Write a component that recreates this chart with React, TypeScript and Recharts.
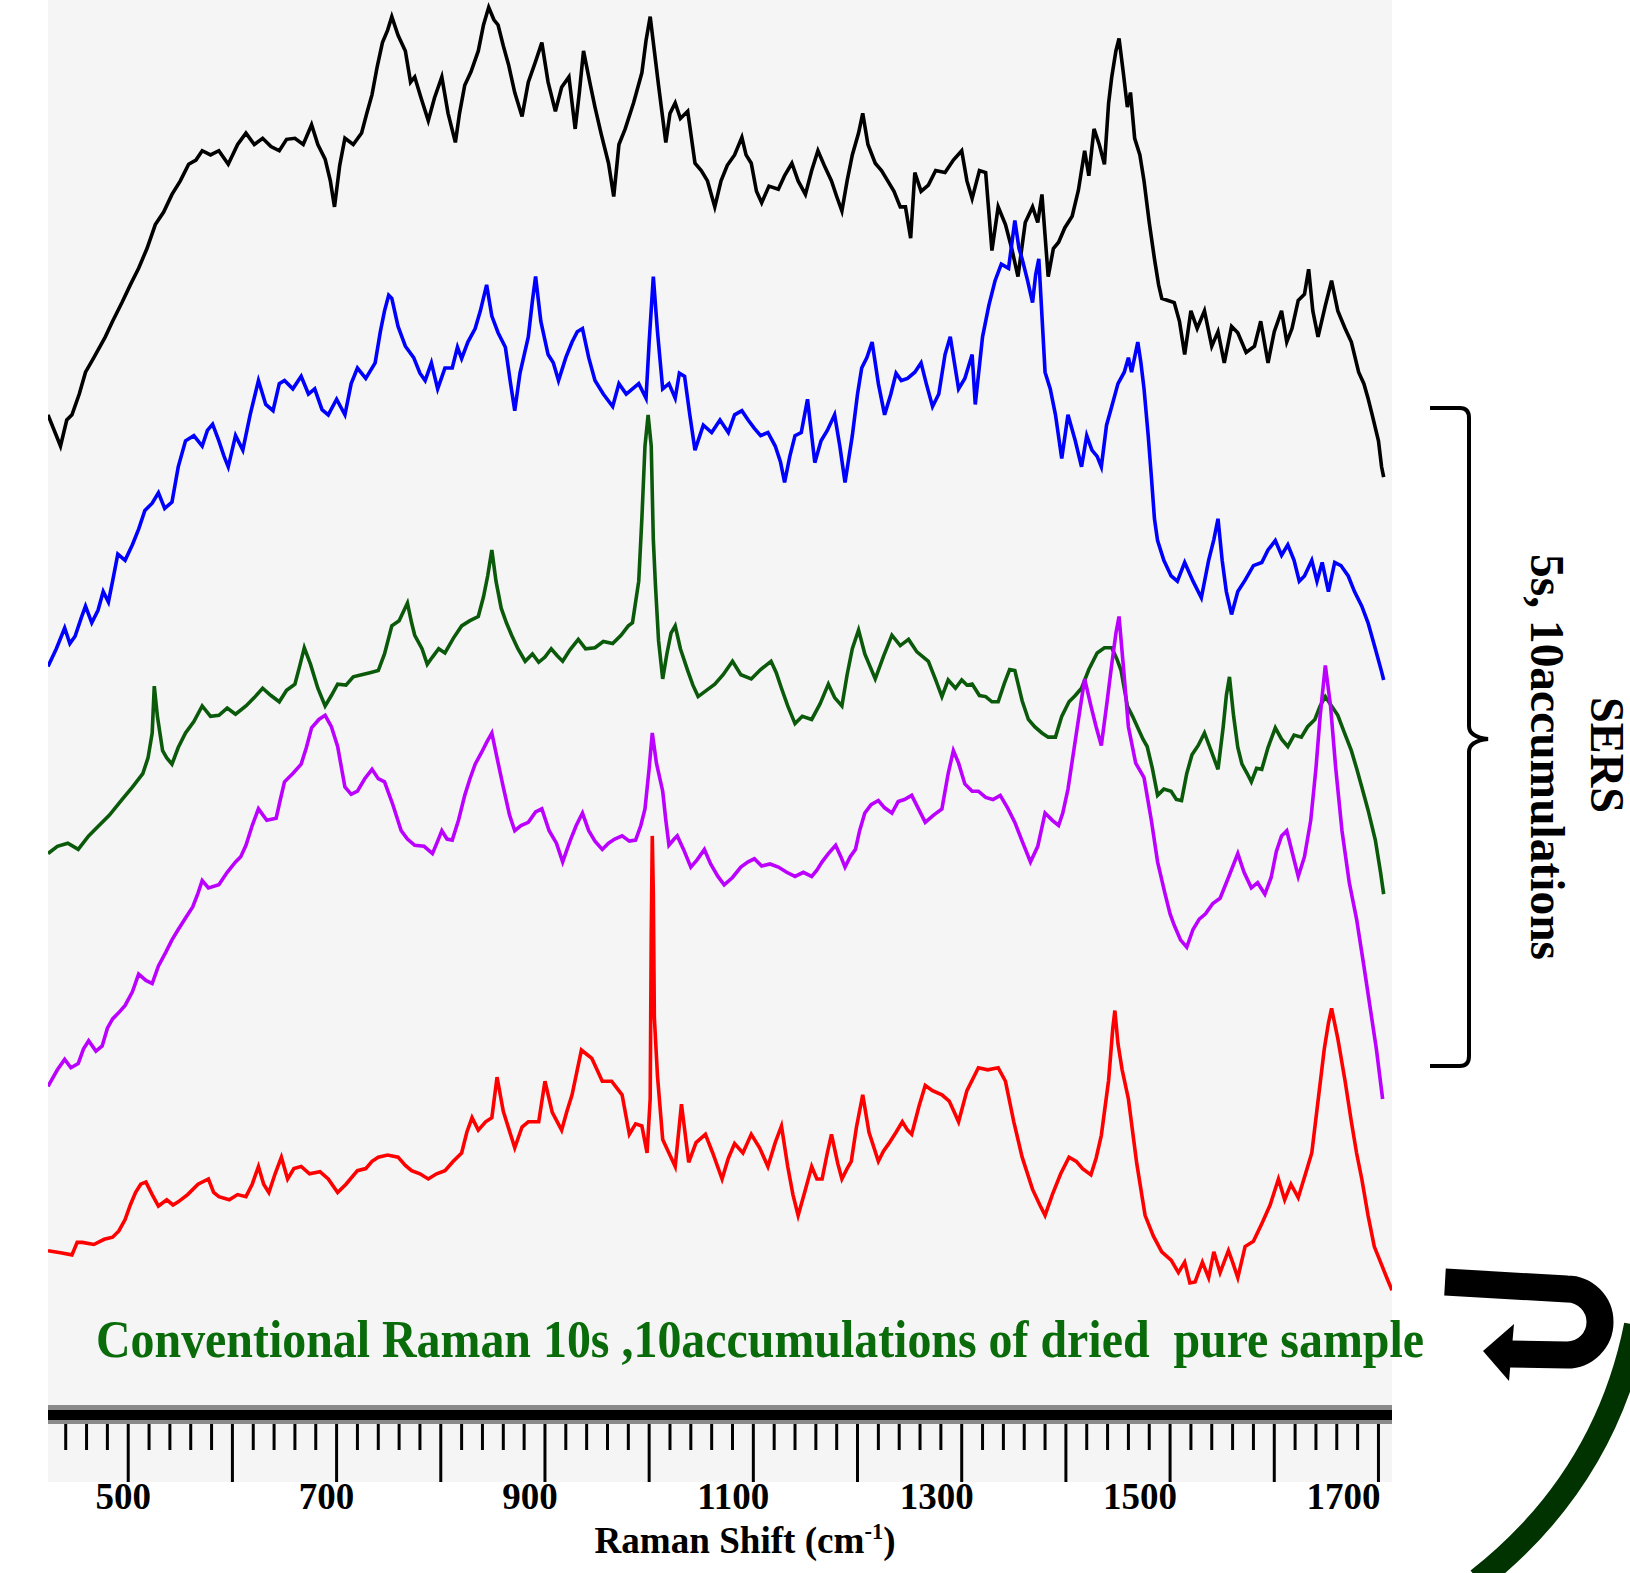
import React from 'react'
import { LineChart, Line, XAxis, YAxis } from 'recharts'

// Raman shift (cm-1), intensity (arb. units, offset stacked)
const blackSpectrum: [number, number][] = [
  [423, 962], [435, 932], [441, 957], [446, 962], [453, 982], [459, 1003], [467, 1017], [478, 1037], [485, 1052], [494, 1070],
  [502, 1087], [510, 1103], [518, 1122], [526, 1145], [534, 1157], [542, 1174], [550, 1187], [558, 1203], [565, 1207], [571, 1216],
  [579, 1212], [587, 1216], [596, 1203], [605, 1222], [613, 1233], [621, 1222], [629, 1228], [637, 1220], [645, 1216], [652, 1227],
  [660, 1228], [668, 1222], [676, 1241], [682, 1222], [689, 1208], [694, 1187], [698, 1162], [703, 1202], [708, 1228], [716, 1222],
  [724, 1233], [729, 1252], [734, 1270], [739, 1297], [744, 1320], [749, 1332], [753, 1345], [759, 1327], [766, 1312], [771, 1282],
  [775, 1287], [781, 1267], [788, 1245], [794, 1267], [801, 1287], [807, 1252], [814, 1224], [818, 1252], [823, 1279], [829, 1292],
  [836, 1312], [841, 1337], [846, 1354], [851, 1342], [855, 1337], [860, 1317], [865, 1299], [871, 1272], [878, 1249], [884, 1282],
  [891, 1302], [897, 1320], [903, 1282], [910, 1254], [916, 1277], [923, 1287], [929, 1237], [933, 1272], [937, 1312], [943, 1282],
  [948, 1258], [954, 1232], [961, 1204], [966, 1172], [971, 1222], [977, 1237], [985, 1262], [993, 1291], [997, 1322], [1001, 1345],
  [1005, 1312], [1009, 1279], [1016, 1224], [1020, 1252], [1025, 1262], [1030, 1247], [1037, 1254], [1044, 1204], [1050, 1197], [1056, 1187],
  [1063, 1162], [1069, 1187], [1075, 1202], [1082, 1212], [1089, 1229], [1093, 1212], [1098, 1204], [1103, 1177], [1108, 1166], [1115, 1182],
  [1124, 1179], [1130, 1192], [1137, 1204], [1143, 1187], [1150, 1174], [1156, 1197], [1162, 1216], [1168, 1202], [1175, 1187], [1180, 1172],
  [1185, 1158], [1190, 1187], [1195, 1212], [1201, 1233], [1205, 1252], [1210, 1222], [1217, 1204], [1223, 1197], [1229, 1187], [1235, 1177],
  [1241, 1162], [1246, 1162], [1251, 1132], [1255, 1195], [1261, 1177], [1268, 1183], [1275, 1197], [1284, 1195], [1292, 1207], [1300, 1216],
  [1305, 1187], [1310, 1170], [1317, 1197], [1323, 1195], [1329, 1120], [1335, 1162], [1342, 1145], [1348, 1122], [1354, 1095], [1361, 1147],
  [1368, 1162], [1373, 1147], [1377, 1174], [1383, 1095], [1388, 1122], [1393, 1128], [1399, 1142], [1406, 1153], [1412, 1178], [1418, 1216],
  [1422, 1192], [1427, 1237], [1432, 1222], [1437, 1203], [1441, 1262], [1444, 1287], [1448, 1312], [1451, 1324], [1455, 1292], [1459, 1258],
  [1462, 1272], [1466, 1228], [1471, 1212], [1475, 1187], [1480, 1147], [1485, 1112], [1489, 1087], [1492, 1074], [1498, 1072], [1504, 1070],
  [1509, 1052], [1514, 1020], [1520, 1062], [1526, 1045], [1533, 1062], [1540, 1028], [1546, 1042], [1552, 1012], [1559, 1047], [1565, 1041],
  [1573, 1022], [1581, 1028], [1587, 1052], [1594, 1012], [1600, 1042], [1607, 1062], [1612, 1032], [1617, 1045], [1623, 1072], [1629, 1078],
  [1633, 1102], [1637, 1062], [1642, 1037], [1649, 1067], [1655, 1091], [1661, 1062], [1668, 1045], [1674, 1032], [1681, 1003], [1686, 992],
  [1690, 978], [1694, 962], [1700, 937], [1703, 912], [1705, 902],
]

const blueSpectrum: [number, number][] = [
  [423, 720], [431, 737], [439, 757], [444, 742], [449, 749], [455, 767], [459, 778], [465, 762], [471, 774], [476, 792],
  [481, 782], [485, 802], [490, 828], [497, 822], [504, 837], [510, 852], [516, 870], [523, 877], [529, 887], [535, 872],
  [542, 878], [548, 912], [555, 937], [563, 942], [571, 932], [576, 947], [581, 953], [587, 937], [592, 922], [596, 912],
  [603, 942], [610, 928], [617, 962], [625, 995], [632, 972], [639, 966], [645, 992], [650, 995], [658, 987], [666, 999],
  [673, 982], [679, 987], [686, 967], [692, 962], [700, 977], [708, 962], [714, 992], [720, 1007], [728, 997], [737, 1012],
  [742, 1042], [746, 1062], [750, 1077], [753, 1074], [759, 1047], [766, 1028], [774, 1017], [780, 1002], [785, 995], [791, 1012],
  [797, 987], [804, 1007], [811, 1007], [816, 1027], [820, 1016], [826, 1032], [833, 1045], [838, 1062], [844, 1087], [849, 1057],
  [855, 1041], [862, 1027], [867, 992], [871, 966], [876, 1002], [884, 1037], [888, 1072], [891, 1095], [896, 1052], [903, 1020],
  [908, 1012], [913, 995], [920, 1017], [926, 1032], [931, 1042], [936, 1045], [942, 1017], [948, 995], [956, 982], [965, 970],
  [971, 992], [978, 982], [984, 987], [990, 992], [997, 978], [1000, 1032], [1004, 1095], [1008, 1042], [1013, 987], [1019, 992],
  [1025, 978], [1029, 1002], [1034, 999], [1039, 962], [1044, 928], [1052, 952], [1060, 945], [1068, 957], [1076, 945], [1082, 962],
  [1089, 966], [1095, 957], [1101, 949], [1107, 942], [1114, 945], [1121, 932], [1126, 917], [1130, 897], [1135, 922], [1140, 942],
  [1146, 945], [1152, 977], [1159, 916], [1165, 937], [1171, 947], [1178, 962], [1183, 932], [1188, 897], [1195, 942], [1200, 982],
  [1204, 1007], [1209, 1017], [1214, 1032], [1220, 992], [1226, 962], [1232, 982], [1237, 1002], [1242, 995], [1248, 997], [1255, 1003],
  [1261, 1012], [1266, 992], [1272, 970], [1278, 982], [1284, 1020], [1289, 1037], [1293, 1012], [1297, 987], [1303, 997], [1310, 1020],
  [1313, 972], [1320, 1037], [1326, 1067], [1332, 1091], [1338, 1107], [1345, 1103], [1351, 1149], [1355, 1122], [1358, 1112], [1363, 1092],
  [1368, 1070], [1371, 1097], [1374, 1112], [1380, 1003], [1385, 987], [1390, 962], [1396, 920], [1402, 962], [1409, 937], [1415, 912],
  [1420, 942], [1425, 928], [1430, 922], [1434, 912], [1439, 952], [1444, 970], [1450, 992], [1456, 1003], [1460, 1017], [1463, 1003],
  [1469, 1032], [1472, 1012], [1475, 987], [1479, 942], [1482, 903], [1485, 862], [1488, 841], [1494, 822], [1501, 807], [1507, 802],
  [1514, 820], [1522, 802], [1530, 786], [1537, 822], [1542, 842], [1546, 862], [1550, 822], [1554, 792], [1559, 770], [1565, 792],
  [1572, 803], [1580, 817], [1588, 820], [1594, 832], [1601, 841], [1607, 827], [1613, 837], [1619, 822], [1624, 802], [1629, 807],
  [1636, 822], [1641, 802], [1646, 820], [1652, 792], [1658, 820], [1664, 817], [1671, 807], [1677, 792], [1684, 778], [1690, 762],
  [1697, 737], [1703, 715], [1705, 707],
]

const greenSpectrum: [number, number][] = [
  [423, 540], [432, 547], [442, 550], [452, 544], [462, 557], [471, 566], [482, 577], [494, 592], [504, 604], [514, 617],
  [519, 632], [523, 656], [525, 701], [528, 672], [533, 639], [537, 632], [542, 626], [548, 642], [555, 656], [563, 667],
  [571, 682], [579, 672], [587, 673], [595, 680], [603, 674], [613, 682], [621, 690], [629, 699], [637, 692], [645, 686],
  [652, 697], [660, 703], [665, 722], [669, 738], [675, 722], [682, 699], [689, 682], [695, 692], [701, 703], [709, 702],
  [716, 710], [724, 712], [732, 714], [740, 716], [746, 732], [753, 759], [760, 764], [768, 781], [772, 762], [775, 750],
  [782, 737], [787, 722], [792, 729], [798, 737], [804, 733], [812, 747], [820, 759], [828, 764], [836, 768], [841, 787],
  [845, 807], [849, 832], [853, 802], [858, 776], [863, 762], [868, 750], [874, 737], [881, 725], [888, 732], [894, 724],
  [900, 729], [906, 737], [912, 730], [917, 725], [924, 736], [932, 746], [939, 737], [948, 738], [956, 744], [965, 742],
  [973, 750], [980, 759], [984, 762], [987, 782], [990, 802], [993, 862], [996, 932], [999, 962], [1002, 932], [1004, 842],
  [1006, 799], [1009, 745], [1013, 708], [1017, 732], [1021, 752], [1025, 759], [1030, 737], [1037, 716], [1042, 702], [1047, 691],
  [1055, 697], [1063, 703], [1071, 712], [1080, 725], [1088, 712], [1098, 708], [1107, 717], [1117, 725], [1122, 714], [1127, 699],
  [1133, 682], [1140, 665], [1147, 672], [1156, 669], [1164, 684], [1172, 703], [1178, 690], [1185, 682], [1190, 712], [1195, 737],
  [1201, 755], [1207, 732], [1217, 708], [1225, 730], [1233, 750], [1241, 740], [1249, 746], [1257, 734], [1268, 725], [1275, 707],
  [1281, 691], [1287, 707], [1294, 699], [1300, 707], [1305, 702], [1310, 703], [1317, 692], [1323, 691], [1329, 686], [1335, 686],
  [1341, 704], [1346, 717], [1351, 716], [1358, 687], [1364, 669], [1370, 662], [1377, 656], [1383, 652], [1390, 652], [1396, 672],
  [1403, 686], [1409, 692], [1415, 699], [1422, 717], [1430, 733], [1437, 738], [1444, 738], [1449, 727], [1453, 716], [1459, 682],
  [1464, 672], [1469, 661], [1474, 650], [1478, 643], [1483, 622], [1488, 596], [1494, 602], [1501, 600], [1506, 592], [1511, 591],
  [1516, 617], [1521, 635], [1527, 644], [1533, 656], [1539, 640], [1546, 621], [1551, 662], [1554, 692], [1557, 710], [1561, 672],
  [1565, 642], [1569, 626], [1574, 617], [1578, 609], [1583, 622], [1588, 621], [1594, 642], [1601, 661], [1607, 650], [1613, 643],
  [1619, 654], [1626, 652], [1632, 662], [1639, 669], [1644, 682], [1649, 691], [1655, 682], [1661, 673], [1667, 657], [1674, 639],
  [1679, 622], [1684, 604], [1690, 582], [1697, 553], [1702, 522], [1705, 501],
]

const purpleSpectrum: [number, number][] = [
  [423, 316], [432, 332], [439, 342], [445, 334], [452, 338], [457, 352], [462, 360], [469, 350], [475, 355], [480, 372],
  [485, 381], [491, 387], [497, 394], [504, 407], [510, 424], [517, 418], [523, 415], [529, 432], [536, 445], [542, 457],
  [548, 467], [555, 478], [562, 489], [567, 502], [571, 514], [577, 507], [587, 510], [595, 522], [603, 532], [608, 537],
  [613, 548], [619, 567], [625, 583], [633, 572], [642, 574], [646, 592], [650, 609], [658, 617], [666, 626], [671, 642],
  [676, 661], [683, 669], [689, 673], [695, 662], [701, 643], [708, 604], [714, 597], [720, 600], [727, 612], [734, 621],
  [740, 612], [746, 609], [754, 587], [762, 562], [768, 554], [775, 548], [784, 547], [792, 540], [797, 552], [801, 562],
  [806, 554], [811, 553], [817, 572], [823, 596], [828, 612], [833, 626], [839, 637], [844, 647], [849, 656], [854, 632],
  [860, 604], [866, 577], [871, 562], [877, 567], [884, 570], [891, 580], [897, 583], [904, 562], [911, 550], [917, 532],
  [924, 552], [930, 567], [936, 579], [942, 562], [948, 552], [955, 544], [961, 550], [967, 554], [974, 557], [981, 552],
  [987, 553], [992, 567], [996, 583], [1000, 622], [1003, 656], [1007, 627], [1013, 600], [1016, 572], [1019, 548], [1024, 554],
  [1027, 557], [1033, 544], [1040, 527], [1046, 534], [1053, 544], [1059, 530], [1066, 518], [1072, 510], [1080, 517], [1088, 527],
  [1095, 532], [1101, 535], [1108, 528], [1116, 530], [1124, 527], [1132, 522], [1140, 518], [1148, 522], [1156, 518], [1161, 524],
  [1166, 532], [1172, 540], [1179, 548], [1184, 537], [1188, 527], [1193, 537], [1198, 544], [1202, 562], [1207, 579], [1213, 587],
  [1220, 591], [1226, 584], [1233, 579], [1239, 590], [1245, 592], [1252, 596], [1259, 582], [1265, 570], [1273, 577], [1281, 583],
  [1287, 617], [1292, 639], [1297, 627], [1303, 607], [1310, 600], [1316, 600], [1323, 594], [1330, 592], [1337, 596], [1344, 584],
  [1351, 570], [1358, 552], [1366, 532], [1373, 547], [1380, 579], [1387, 572], [1393, 567], [1397, 579], [1402, 602], [1408, 642],
  [1414, 682], [1418, 708], [1424, 682], [1429, 662], [1434, 644], [1439, 682], [1444, 722], [1448, 752], [1451, 768], [1455, 722],
  [1460, 662], [1467, 627], [1475, 613], [1482, 572], [1488, 532], [1495, 502], [1500, 482], [1504, 471], [1510, 457], [1516, 450],
  [1522, 467], [1528, 477], [1534, 482], [1541, 492], [1548, 497], [1556, 517], [1565, 540], [1571, 522], [1578, 507], [1584, 512],
  [1591, 501], [1597, 517], [1602, 542], [1607, 557], [1612, 562], [1617, 542], [1623, 518], [1629, 537], [1635, 572], [1640, 622],
  [1644, 672], [1649, 721], [1654, 682], [1659, 622], [1665, 562], [1672, 512], [1679, 477], [1686, 432], [1692, 392], [1698, 352],
  [1704, 304],
]

const redSpectrum: [number, number][] = [
  [423, 158], [435, 156], [446, 154], [451, 166], [456, 166], [467, 164], [477, 169], [485, 171], [491, 177], [497, 188],
  [502, 202], [507, 214], [512, 222], [517, 224], [523, 212], [529, 201], [537, 207], [543, 202], [548, 205], [557, 212],
  [567, 222], [577, 227], [582, 214], [587, 210], [597, 207], [605, 212], [613, 210], [619, 222], [625, 239], [630, 222],
  [635, 214], [641, 232], [647, 248], [653, 227], [659, 237], [666, 239], [674, 232], [684, 234], [692, 227], [701, 214],
  [709, 222], [720, 235], [728, 237], [734, 244], [740, 248], [749, 250], [759, 248], [766, 240], [772, 235], [780, 232],
  [788, 227], [796, 232], [804, 235], [812, 244], [820, 252], [825, 272], [830, 286], [836, 274], [843, 282], [849, 286],
  [854, 325], [860, 292], [871, 257], [878, 277], [884, 282], [894, 282], [900, 321], [907, 291], [916, 274], [921, 292],
  [926, 308], [931, 332], [935, 351], [940, 347], [945, 343], [950, 332], [955, 321], [964, 321], [974, 308], [981, 270],
  [987, 280], [993, 278], [998, 252], [1001, 304], [1002, 462], [1003, 557], [1004, 502], [1005, 382], [1008, 326], [1013, 265],
  [1019, 252], [1025, 239], [1031, 299], [1038, 243], [1045, 262], [1054, 270], [1061, 252], [1070, 227], [1076, 247], [1082, 261],
  [1090, 252], [1098, 270], [1106, 257], [1114, 239], [1121, 262], [1127, 278], [1133, 239], [1138, 212], [1143, 192], [1150, 217],
  [1156, 239], [1161, 227], [1166, 227], [1171, 252], [1175, 270], [1181, 242], [1185, 227], [1190, 237], [1194, 244], [1199, 277],
  [1205, 308], [1211, 272], [1220, 244], [1225, 254], [1230, 261], [1237, 272], [1243, 282], [1248, 274], [1252, 270], [1259, 297],
  [1265, 317], [1272, 312], [1281, 308], [1288, 302], [1293, 291], [1297, 282], [1305, 312], [1316, 334], [1325, 332], [1335, 334],
  [1342, 321], [1350, 282], [1358, 248], [1368, 217], [1375, 202], [1380, 192], [1387, 212], [1395, 232], [1403, 248], [1410, 244],
  [1416, 237], [1424, 231], [1429, 247], [1434, 269], [1441, 322], [1445, 372], [1447, 389], [1450, 357], [1454, 332], [1460, 304],
  [1468, 242], [1476, 192], [1484, 172], [1492, 157], [1501, 149], [1508, 137], [1514, 147], [1519, 127], [1524, 128], [1531, 147],
  [1537, 132], [1542, 157], [1548, 137], [1556, 158], [1560, 147], [1565, 132], [1572, 162], [1580, 167], [1588, 184], [1596, 202],
  [1604, 227], [1610, 207], [1616, 222], [1623, 209], [1630, 232], [1636, 252], [1642, 302], [1648, 352], [1652, 377], [1655, 391],
  [1661, 362], [1668, 321], [1674, 282], [1679, 252], [1684, 227], [1690, 192], [1696, 162], [1702, 147], [1708, 132], [1713, 120],
]

const xTicks = [
  440, 460, 480, 500, 520, 540, 560, 580, 600, 620, 640, 660, 680, 700, 720, 740, 760, 780, 800, 820,
  840, 860, 880, 900, 920, 940, 960, 980, 1000, 1020, 1040, 1060, 1080, 1100, 1120, 1140, 1160, 1180, 1200, 1220,
  1240, 1260, 1280, 1300, 1320, 1340, 1360, 1380, 1400, 1420, 1440, 1460, 1480, 1500, 1520, 1540, 1560, 1580, 1600, 1620,
  1640, 1660, 1680, 1700,
]
const xTickLabels = [500, 700, 900, 1100, 1300, 1500, 1700]

const series = [
  { name: 'SERS 1', points: blackSpectrum, color: '#000000' },
  { name: 'SERS 2', points: blueSpectrum, color: '#0000ff' },
  { name: 'SERS 3', points: greenSpectrum, color: '#0b5a0b' },
  { name: 'SERS 4', points: purpleSpectrum, color: '#bb00ff' },
  { name: 'Conventional Raman', points: redSpectrum, color: '#ff0000' },
]

const SERIF = '"Liberation Serif", "Times New Roman", serif'

function AxisTick(props: any) {
  const { x, y, payload } = props
  const v = payload.value as number
  const major = v % 100 === 0
  const labelled = xTickLabels.includes(v)
  return (
    <g>
      <line x1={x} x2={x} y1={y + 9} y2={y + (major ? 67 : 35)} stroke="#000" strokeWidth={3} />
      {labelled && (
        <text
          x={x - 5 - (v - 500) * 0.025}
          y={y + 94}
          textAnchor="middle"
          fontFamily={SERIF}
          fontWeight="bold"
          fontSize={37}
          fill="#000"
        >
          {v}
        </text>
      )}
    </g>
  )
}

export default function App() {
  return (
    <div style={{ position: 'absolute', left: 0, top: 0, width: 1630, height: 1573, background: '#fff', overflow: 'hidden' }}>
      <div style={{ position: 'absolute', left: 48, top: 0, width: 1344, height: 1482, background: '#f5f5f5' }} />
      <div style={{ position: 'absolute', left: 0, top: 0 }}>
        <LineChart width={1630} height={1573} margin={{ top: 0, right: 238, bottom: 0, left: 48 }}>
          <XAxis
            type="number"
            dataKey="w"
            domain={[423, 1713]}
            allowDataOverflow
            ticks={xTicks}
            interval={0}
            height={158}
            tickSize={0}
            tickMargin={0}
            tickLine={false}
            axisLine={{ stroke: '#000', strokeWidth: 10 }}
            tick={<AxisTick />}
          />
          <YAxis hide type="number" domain={[0, 1361]} allowDataOverflow />
          {series.map((s) => (
            <Line
              key={s.name}
              name={s.name}
              data={s.points.map(([w, v]) => ({ w, v }))}
              dataKey="v"
              type="linear"
              stroke={s.color}
              strokeWidth={3.6}
              strokeLinejoin="miter"
              dot={false}
              activeDot={false}
              isAnimationActive={false}
            />
          ))}
        </LineChart>
      </div>
      <svg width={1630} height={1573} style={{ position: 'absolute', left: 0, top: 0, pointerEvents: 'none' }}>
        <rect x={48} y={1405} width={1344} height={5} fill="#8a8a8a" />
        <rect x={48} y={1420} width={1344} height={4} fill="#8a8a8a" />

        <text
          x={96}
          y={1357}
          fontFamily={SERIF}
          fontWeight="bold"
          fontSize={52}
          fill="#0a6b0a"
          textLength={1328}
          lengthAdjust="spacingAndGlyphs"
          style={{ whiteSpace: 'pre' }}
        >
          {'Conventional Raman 10s ,10accumulations of dried  pure sample'}
        </text>

        <text
          x={745}
          y={1553}
          textAnchor="middle"
          fontFamily={SERIF}
          fontWeight="bold"
          fontSize={38}
          fill="#000"
          textLength={301}
          lengthAdjust="spacingAndGlyphs"
        >
          Raman Shift (cm
          <tspan fontSize={23} dy={-14}>-1</tspan>
          <tspan dy={14}>)</tspan>
        </text>

        <path
          d="M1430,408 L1460,408 Q1469,408 1469,418 L1469,726 Q1469,737 1488,739 Q1469,741 1469,752 L1469,1056 Q1469,1066 1460,1066 L1430,1066"
          fill="none"
          stroke="#000"
          strokeWidth={4}
        />
        <text
          x={1591}
          y={755}
          transform="rotate(90 1591 755)"
          textAnchor="middle"
          fontFamily={SERIF}
          fontWeight="bold"
          fontSize={48}
          fill="#000"
          textLength={116}
          lengthAdjust="spacingAndGlyphs"
        >
          SERS
        </text>
        <text
          x={1531}
          y={757}
          transform="rotate(90 1531 757)"
          textAnchor="middle"
          fontFamily={SERIF}
          fontWeight="bold"
          fontSize={48}
          fill="#000"
          textLength={406}
          lengthAdjust="spacingAndGlyphs"
        >
          5s, 10accumulations
        </text>

        <path d="M1445,1282 L1567,1289 A33,33 0 0 1 1567,1355 L1510,1354" fill="none" stroke="#000" strokeWidth={27} />
        <polygon points="1514,1324 1509,1381 1483,1351" fill="#000" />

        <path d="M1636,1325 Q1605,1480 1478,1580" fill="none" stroke="#003300" strokeWidth={24} />
      </svg>
    </div>
  )
}
